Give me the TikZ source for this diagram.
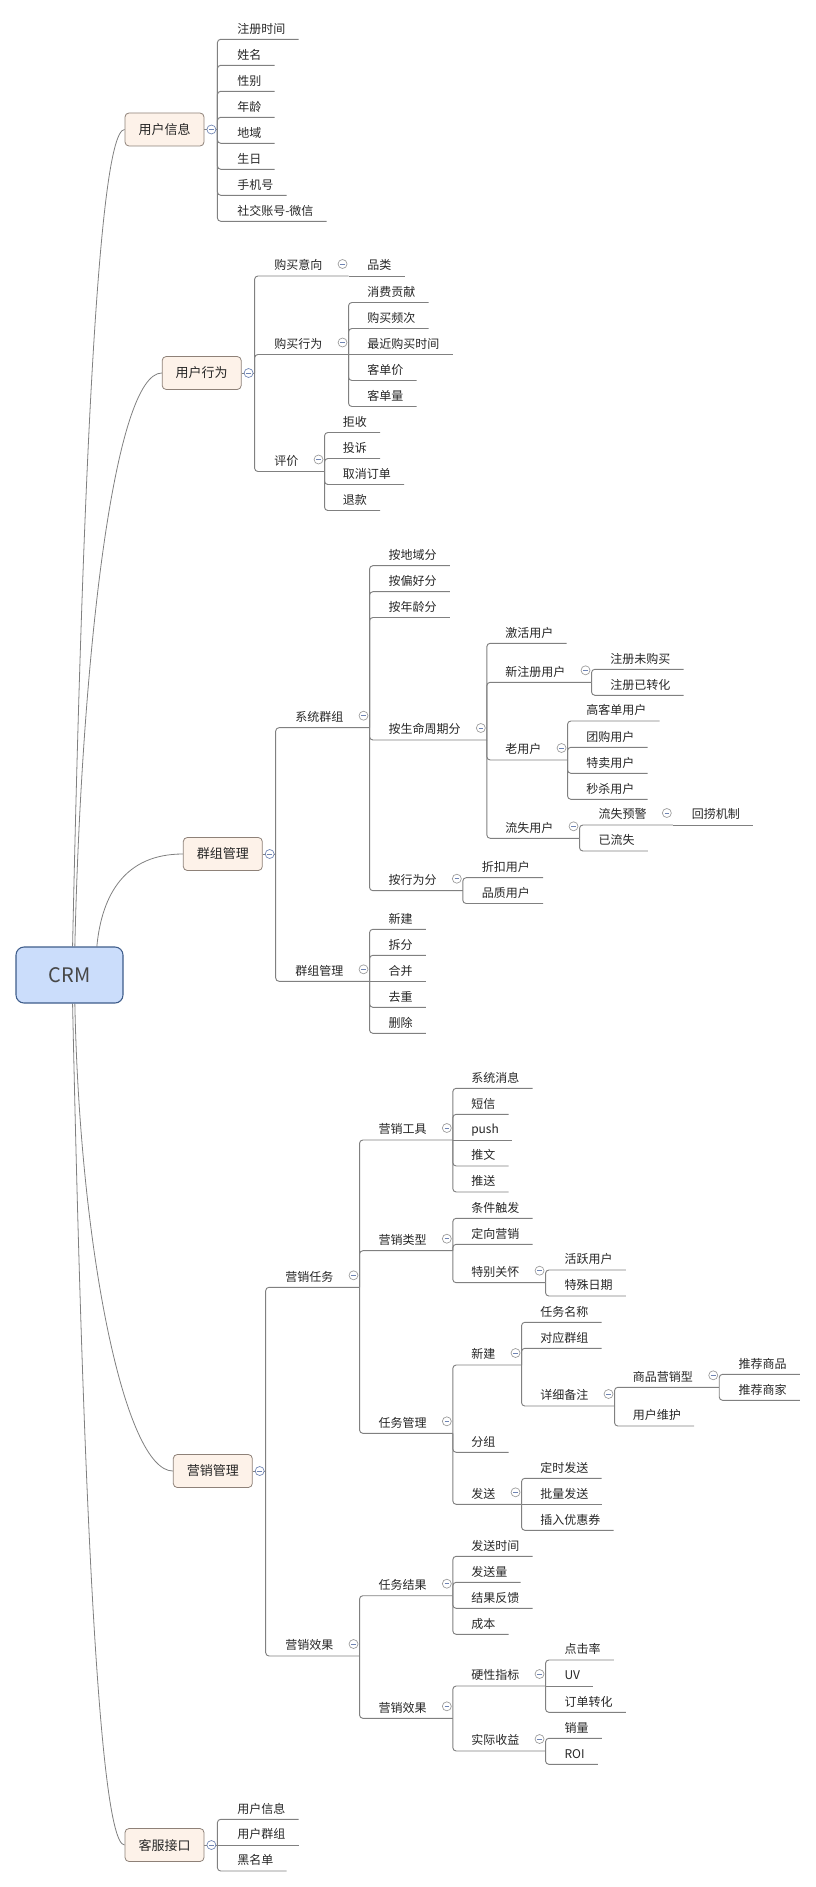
\documentclass[tikz,border=0pt]{standalone}
\usepackage{fontspec}
\setmainfont{Noto Sans CJK SC}
\usetikzlibrary{backgrounds}
\definecolor{ink}{HTML}{262626}
\definecolor{wire}{HTML}{808080}
\definecolor{rootfill}{HTML}{CBDDFB}
\definecolor{rootline}{HTML}{3E5C8A}
\definecolor{mainfill}{HTML}{FDF2E9}
\definecolor{mainline}{HTML}{8E8178}
\definecolor{foldline}{HTML}{9A9A9A}
\definecolor{foldblue}{HTML}{6F84B3}

\begin{document}
\begin{tikzpicture}[x=0.75pt,y=-0.75pt,
  crmbox/.style={draw=rootline,line width=0.8pt,fill=rootfill,rounded corners=6pt,minimum width=80.25pt,minimum height=42pt,font=\fontsize{15pt}{18pt}\selectfont,text=ink!85},
  mainbox/.style={draw=mainline,line width=0.6pt,fill=mainfill,rounded corners=3pt,minimum width=59.25pt,minimum height=24.75pt,font=\fontsize{9.75pt}{12pt}\selectfont,text=ink},
  topic/.style={anchor=south west,inner sep=0pt,text depth=4.5pt,font=\fontsize{9pt}{11pt}\selectfont,text=ink},
  foldc/.style={circle,draw=foldline,fill=white,line width=0.5pt,minimum size=6.75pt,inner sep=0pt,
    path picture={\draw[foldblue,line width=0.6pt] ([xshift=-1.7pt]path picture bounding box.center) -- ([xshift=1.7pt]path picture bounding box.center);}},
  foldb/.style={foldc,draw=foldblue},
  spoke/.style={draw=wire,line width=0.6pt},
  wireln/.style={draw=wire,line width=0.7pt},
  twig/.style={wireln,rounded corners=2.5pt,to path={|- (\tikztotarget.south west) -- ([xshift=9.75pt]\tikztotarget.south east)}},
  flat/.style={wireln,to path={-- ([xshift=9.75pt]\tikztotarget.south east)}},
  limb/.style={wireln,rounded corners=2.5pt,to path={|- (\tikztotarget.south west) -- ([xshift=19.5pt]\tikztotarget.south east)}}
]
  \useasboundingbox (0,0) rectangle (815,1887);

  % root and main branches
  \node[crmbox]  (crm)  at (69.5,975)   {CRM};
  \node[mainbox] (info) at (164.5,129.5) {用户信息};
  \node[mainbox] (act)  at (201.7,373)  {用户行为};
  \node[mainbox] (grp)  at (222.8,854)  {群组管理};
  \node[mainbox] (mkt)  at (212.8,1471) {营销管理};
  \node[mainbox] (svc)  at (164.5,1845) {客服接口};

  % 用户信息
  \node[topic] (inf1) at (237,39.3)  {注册时间};
  \node[topic] (inf2) at (237,65.3)  {姓名};
  \node[topic] (inf3) at (237,91.3)  {性别};
  \node[topic] (inf4) at (237,117.3) {年龄};
  \node[topic] (inf5) at (237,143.3) {地域};
  \node[topic] (inf6) at (237,169.3) {生日};
  \node[topic] (inf7) at (237,195.3) {手机号};
  \node[topic] (inf8) at (237,221.3) {社交账号-微信};

  % 用户行为
  \node[topic] (buy)  at (274,276)   {购买意向};
  \node[topic] (buy1) at (367,276)   {品类};
  \node[topic] (bhv)  at (274,354.5) {购买行为};
  \node[topic] (bhv1) at (367,302.5) {消费贡献};
  \node[topic] (bhv2) at (367,328.5) {购买频次};
  \node[topic] (bhv3) at (367,354.5) {最近购买时间};
  \node[topic] (bhv4) at (367,380.5) {客单价};
  \node[topic] (bhv5) at (367,406.5) {客单量};
  \node[topic] (rev)  at (274,471.5) {评价};
  \node[topic] (rev1) at (342.7,432.5) {拒收};
  \node[topic] (rev2) at (342.7,458.5) {投诉};
  \node[topic] (rev3) at (342.7,484.5) {取消订单};
  \node[topic] (rev4) at (342.7,510.5) {退款};

  % 群组管理
  \node[topic] (sys)   at (295,727.7)   {系统群组};
  \node[topic] (sys1)  at (388.3,565.7) {按地域分};
  \node[topic] (sys2)  at (388.3,591.7) {按偏好分};
  \node[topic] (sys3)  at (388.3,617.5) {按年龄分};
  \node[topic] (life)  at (388.3,740)   {按生命周期分};
  \node[topic] (live)  at (505,643.3)   {激活用户};
  \node[topic] (newu)  at (505,682.3)   {新注册用户};
  \node[topic] (newu1) at (610,669.3)   {注册未购买};
  \node[topic] (newu2) at (610,695.3)   {注册已转化};
  \node[topic] (oldu)  at (505,760)     {老用户};
  \node[topic] (oldu1) at (586,721)     {高客单用户};
  \node[topic] (oldu2) at (586,747.3)   {团购用户};
  \node[topic] (oldu3) at (586,773.3)   {特卖用户};
  \node[topic] (oldu4) at (586,799.3)   {秒杀用户};
  \node[topic] (lost)  at (505,838.3)   {流失用户};
  \node[topic] (warn)  at (598.3,825)   {流失预警};
  \node[topic] (warn1) at (691.7,825)   {回捞机制};
  \node[topic] (gone)  at (598.3,851)   {已流失};
  \node[topic] (byact) at (388.3,890.7) {按行为分};
  \node[topic] (byact1) at (481.7,877.7) {折扣用户};
  \node[topic] (byact2) at (481.7,903.5) {品质用户};
  \node[topic] (gmg)   at (295,981.3)   {群组管理};
  \node[topic] (gmg1)  at (388.3,929.3) {新建};
  \node[topic] (gmg2)  at (388.3,955.3) {拆分};
  \node[topic] (gmg3)  at (388.3,981.3) {合并};
  \node[topic] (gmg4)  at (388.3,1007.3) {去重};
  \node[topic] (gmg5)  at (388.3,1033.3) {删除};

  % 营销管理
  \node[topic] (task)  at (285,1287.3)  {营销任务};
  \node[topic] (tool)  at (378.3,1140)  {营销工具};
  \node[topic] (tool1) at (471,1088.3)  {系统消息};
  \node[topic] (tool2) at (471,1114.3)  {短信};
  \node[topic] (tool3) at (471,1140)    {push};
  \node[topic] (tool4) at (471,1166)    {推文};
  \node[topic] (tool5) at (471,1192)    {推送};
  \node[topic] (kind)  at (378.3,1250.7) {营销类型};
  \node[topic] (kind1) at (471,1218.3)  {条件触发};
  \node[topic] (kind2) at (471,1244.3)  {定向营销};
  \node[topic] (care)  at (471,1282.7)  {特别关怀};
  \node[topic] (care1) at (564.3,1270)  {活跃用户};
  \node[topic] (care2) at (564.3,1296)  {特殊日期};
  \node[topic] (tmgr)  at (378.3,1433.3) {任务管理};
  \node[topic] (tnew)  at (471,1365)    {新建};
  \node[topic] (tnew1) at (540,1322.3)  {任务名称};
  \node[topic] (tnew2) at (540,1348.3)  {对应群组};
  \node[topic] (note)  at (540,1406)    {详细备注};
  \node[topic] (goods) at (632.7,1387.3) {商品营销型};
  \node[topic] (goods1) at (738.3,1374.3) {推荐商品};
  \node[topic] (goods2) at (738.3,1400.3) {推荐商家};
  \node[topic] (keep)  at (632.7,1426)  {用户维护};
  \node[topic] (tgrp)  at (471,1452.3)  {分组};
  \node[topic] (send)  at (471,1504.3)  {发送};
  \node[topic] (send1) at (540,1478.3)  {定时发送};
  \node[topic] (send2) at (540,1504.3)  {批量发送};
  \node[topic] (send3) at (540,1530.3)  {插入优惠券};
  \node[topic] (eff)   at (285,1656)    {营销效果};
  \node[topic] (res)   at (378.3,1595.7) {任务结果};
  \node[topic] (res1)  at (471,1556.3)  {发送时间};
  \node[topic] (res2)  at (471,1582.3)  {发送量};
  \node[topic] (res3)  at (471,1608.3)  {结果反馈};
  \node[topic] (res4)  at (471,1634.3)  {成本};
  \node[topic] (eff2)  at (378.3,1718.3) {营销效果};
  \node[topic] (hard)  at (471,1686)    {硬性指标};
  \node[topic] (hard1) at (564.3,1660)  {点击率};
  \node[topic] (hard2) at (564.3,1686)  {UV};
  \node[topic] (hard3) at (564.3,1712.3) {订单转化};
  \node[topic] (gain)  at (471,1751)    {实际收益};
  \node[topic] (gain1) at (564.3,1738.3) {销量};
  \node[topic] (gain2) at (564.3,1764.3) {ROI};

  % 客服接口
  \node[topic] (svc1) at (237,1819.3) {用户信息};
  \node[topic] (svc2) at (237,1845)   {用户群组};
  \node[topic] (svc3) at (237,1871)   {黑名单};

  % collapse marks
  \node[foldb] (infof) at ([xshift=5.25pt]info.east) {};
  \node[foldb] (actf)  at ([xshift=5.25pt]act.east)  {};
  \node[foldb] (grpf)  at ([xshift=5.25pt]grp.east)  {};
  \node[foldb] (mktf)  at ([xshift=5.25pt]mkt.east)  {};
  \node[foldb] (svcf)  at ([xshift=5.25pt]svc.east)  {};
  \node[foldc] (buyf)   at ([xshift=15pt,yshift=9pt]buy.south east)   {};
  \node[foldc] (bhvf)   at ([xshift=15pt,yshift=9pt]bhv.south east)   {};
  \node[foldc] (revf)   at ([xshift=15pt,yshift=9pt]rev.south east)   {};
  \node[foldc] (sysf)   at ([xshift=15pt,yshift=9pt]sys.south east)   {};
  \node[foldc] (lifef)  at ([xshift=15pt,yshift=9pt]life.south east)  {};
  \node[foldc] (newuf)  at ([xshift=15pt,yshift=9pt]newu.south east)  {};
  \node[foldc] (olduf)  at ([xshift=15pt,yshift=9pt]oldu.south east)  {};
  \node[foldc] (lostf)  at ([xshift=15pt,yshift=9pt]lost.south east)  {};
  \node[foldc] (warnf)  at ([xshift=15pt,yshift=9pt]warn.south east)  {};
  \node[foldc] (byactf) at ([xshift=15pt,yshift=9pt]byact.south east) {};
  \node[foldc] (gmgf)   at ([xshift=15pt,yshift=9pt]gmg.south east)   {};
  \node[foldc] (taskf)  at ([xshift=15pt,yshift=9pt]task.south east)  {};
  \node[foldc] (toolf)  at ([xshift=15pt,yshift=9pt]tool.south east)  {};
  \node[foldc] (kindf)  at ([xshift=15pt,yshift=9pt]kind.south east)  {};
  \node[foldc] (caref)  at ([xshift=15pt,yshift=9pt]care.south east)  {};
  \node[foldc] (tmgrf)  at ([xshift=15pt,yshift=9pt]tmgr.south east)  {};
  \node[foldc] (tnewf)  at ([xshift=15pt,yshift=9pt]tnew.south east)  {};
  \node[foldc] (notef)  at ([xshift=15pt,yshift=9pt]note.south east)  {};
  \node[foldc] (goodsf) at ([xshift=15pt,yshift=9pt]goods.south east) {};
  \node[foldc] (sendf)  at ([xshift=15pt,yshift=9pt]send.south east)  {};
  \node[foldc] (efff)   at ([xshift=15pt,yshift=9pt]eff.south east)   {};
  \node[foldc] (resf)   at ([xshift=15pt,yshift=9pt]res.south east)   {};
  \node[foldc] (eff2f)  at ([xshift=15pt,yshift=9pt]eff2.south east)  {};
  \node[foldc] (hardf)  at ([xshift=15pt,yshift=9pt]hard.south east)  {};
  \node[foldc] (gainf)  at ([xshift=15pt,yshift=9pt]gain.south east)  {};

  \begin{scope}[on background layer]
    % curves from the root
    \draw[spoke] ([xshift=2.3pt]crm.north) .. controls +(7.5,-347) and +(-30,0) .. (info.west);
    \draw[spoke] ([xshift=4pt]crm.north)   .. controls +(7,-297) and +(-47,0) .. (act.west);
    \draw[spoke] ([xshift=20.5pt]crm.north) .. controls +(5,-52) and +(-58,0) .. (grp.west);
    \draw[spoke] ([xshift=4pt]crm.south)   .. controls +(5,247) and +(-48,0) .. (mkt.west);
    \draw[spoke] ([xshift=2.3pt]crm.south) .. controls +(7.5,347) and +(-30,0) .. (svc.west);

    % 用户信息
    \draw[wireln] (info.east) -- ([xshift=9.75pt]info.east);
    \path ([xshift=9.75pt]info.east) edge[twig] (inf1) edge[twig] (inf2) edge[twig] (inf3) edge[twig] (inf4)
      edge[twig] (inf5) edge[twig] (inf6) edge[twig] (inf7) edge[twig] (inf8);

    % 用户行为
    \draw[wireln] (act.east) -- ([xshift=9.75pt]act.east);
    \path ([xshift=9.75pt]act.east) edge[limb] (buy) edge[limb] (bhv) edge[limb] (rev);
    \path ([xshift=19.5pt]buy.south east) edge[flat] (buy1);
    \path ([xshift=19.5pt]bhv.south east) edge[twig] (bhv1) edge[twig] (bhv2) edge[flat] (bhv3) edge[twig] (bhv4) edge[twig] (bhv5);
    \path ([xshift=19.5pt]rev.south east) edge[twig] (rev1) edge[twig] (rev2) edge[twig] (rev3) edge[twig] (rev4);

    % 群组管理
    \draw[wireln] (grp.east) -- ([xshift=9.75pt]grp.east);
    \path ([xshift=9.75pt]grp.east) edge[limb] (sys) edge[limb] (gmg);
    \path ([xshift=19.5pt]sys.south east) edge[twig] (sys1) edge[twig] (sys2) edge[twig] (sys3) edge[limb] (life) edge[limb] (byact);
    \path ([xshift=19.5pt]life.south east) edge[twig] (live) edge[limb] (newu) edge[limb] (oldu) edge[limb] (lost);
    \path ([xshift=19.5pt]newu.south east) edge[twig] (newu1) edge[twig] (newu2);
    \path ([xshift=19.5pt]oldu.south east) edge[twig] (oldu1) edge[twig] (oldu2) edge[twig] (oldu3) edge[twig] (oldu4);
    \path ([xshift=19.5pt]lost.south east) edge[limb] (warn) edge[twig] (gone);
    \path ([xshift=19.5pt]warn.south east) edge[flat] (warn1);
    \path ([xshift=19.5pt]byact.south east) edge[twig] (byact1) edge[twig] (byact2);
    \path ([xshift=19.5pt]gmg.south east) edge[twig] (gmg1) edge[twig] (gmg2) edge[flat] (gmg3) edge[twig] (gmg4) edge[twig] (gmg5);

    % 营销管理
    \draw[wireln] (mkt.east) -- ([xshift=9.75pt]mkt.east);
    \path ([xshift=9.75pt]mkt.east) edge[limb] (task) edge[limb] (eff);
    \path ([xshift=19.5pt]task.south east) edge[limb] (tool) edge[limb] (kind) edge[limb] (tmgr);
    \path ([xshift=19.5pt]tool.south east) edge[twig] (tool1) edge[twig] (tool2) edge[flat] (tool3) edge[twig] (tool4) edge[twig] (tool5);
    \path ([xshift=19.5pt]kind.south east) edge[twig] (kind1) edge[twig] (kind2) edge[limb] (care);
    \path ([xshift=19.5pt]care.south east) edge[twig] (care1) edge[twig] (care2);
    \path ([xshift=19.5pt]tmgr.south east) edge[limb] (tnew) edge[twig] (tgrp) edge[limb] (send);
    \path ([xshift=19.5pt]tnew.south east) edge[twig] (tnew1) edge[twig] (tnew2) edge[limb] (note);
    \path ([xshift=19.5pt]note.south east) edge[limb] (goods) edge[twig] (keep);
    \path ([xshift=19.5pt]goods.south east) edge[twig] (goods1) edge[twig] (goods2);
    \path ([xshift=19.5pt]send.south east) edge[twig] (send1) edge[flat] (send2) edge[twig] (send3);
    \path ([xshift=19.5pt]eff.south east) edge[limb] (res) edge[limb] (eff2);
    \path ([xshift=19.5pt]res.south east) edge[twig] (res1) edge[twig] (res2) edge[twig] (res3) edge[twig] (res4);
    \path ([xshift=19.5pt]eff2.south east) edge[limb] (hard) edge[limb] (gain);
    \path ([xshift=19.5pt]hard.south east) edge[twig] (hard1) edge[flat] (hard2) edge[twig] (hard3);
    \path ([xshift=19.5pt]gain.south east) edge[twig] (gain1) edge[twig] (gain2);

    % 客服接口
    \draw[wireln] (svc.east) -- ([xshift=9.75pt]svc.east);
    \path ([xshift=9.75pt]svc.east) edge[twig] (svc1) edge[flat] (svc2) edge[twig] (svc3);
  \end{scope}
\end{tikzpicture}
\end{document}
